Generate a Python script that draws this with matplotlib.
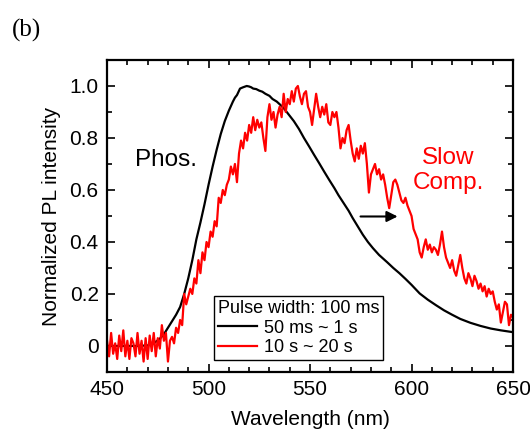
import numpy as np
import matplotlib
matplotlib.use('Agg')
import matplotlib.pyplot as plt
from matplotlib.ticker import MultipleLocator, FuncFormatter

plt.rcParams['font.family'] = ['Liberation Sans', 'DejaVu Sans']

# black: 50 ms ~ 1 s (phosphorescence)
wl_black = [450, 455, 460, 465, 470, 473, 476, 478, 480, 482, 484, 486, 488, 490,
            492, 494, 496, 498, 500, 502, 504, 506, 508, 510, 512, 513, 514, 515.5,
            517, 518.8, 520, 521, 522, 523.5, 525, 526.5, 528, 530, 531.5, 533.6,
            535, 537, 539, 542, 544.5, 547, 549.5, 552, 554.5, 557, 559.5, 562,
            564, 566.5, 569, 571, 573.5, 576, 578.5, 581, 584, 588, 591, 594, 597,
            600, 604, 608, 612, 616, 620, 624, 629, 634, 639, 644, 650]
pl_black = [0.0, 0.0, 0.0, 0.0, 0.002, 0.01, 0.028, 0.045, 0.07, 0.095, 0.12, 0.15,
            0.2, 0.26, 0.33, 0.41, 0.475, 0.545, 0.62, 0.69, 0.755, 0.815, 0.865,
            0.905, 0.94, 0.955, 0.965, 0.99, 0.995, 1.0, 0.998, 0.995, 0.99, 0.988,
            0.982, 0.978, 0.97, 0.962, 0.95, 0.94, 0.93, 0.915, 0.895, 0.865, 0.835,
            0.80, 0.768, 0.735, 0.703, 0.67, 0.638, 0.607, 0.58, 0.55, 0.52, 0.492,
            0.46, 0.428, 0.40, 0.376, 0.35, 0.322, 0.3, 0.28, 0.258, 0.235, 0.202,
            0.178, 0.157, 0.137, 0.12, 0.104, 0.089, 0.077, 0.067, 0.06, 0.053]

# red: 10 s ~ 20 s (slow component), 1 nm steps
wl_red = list(range(450, 651))
pl_red = [0.02, -0.04, 0.05, -0.03, 0.01, -0.05, 0.04, -0.02, 0.06, -0.04,
          0.02, -0.05, 0.03, 0.01, -0.04, 0.05, -0.03, 0.02, -0.06, 0.03,
          -0.05, 0.04, -0.02, 0.05, -0.04, 0.03, -0.01, 0.08, 0.02, 0.05,
          -0.06, 0.02, 0.035, 0.01, 0.07, 0.05, 0.10, 0.08, 0.20, 0.16,
          0.19, 0.22, 0.20, 0.26, 0.24, 0.33, 0.28, 0.36, 0.33, 0.40,
          0.38, 0.44, 0.42, 0.48, 0.46, 0.57, 0.55, 0.60, 0.58, 0.62,
          0.64, 0.69, 0.66, 0.70, 0.63, 0.74, 0.79, 0.76, 0.82, 0.79,
          0.85, 0.82, 0.88, 0.83, 0.87, 0.84, 0.86, 0.80, 0.75, 0.88,
          0.93, 0.87, 0.90, 0.84, 0.89, 0.92, 0.88, 0.97, 0.90, 0.95,
          0.93, 0.98, 0.94, 0.99, 1.00, 0.96, 0.93, 0.97, 0.98, 0.92,
          0.90, 0.85, 0.91, 0.97, 0.92, 0.88, 0.92, 0.89, 0.93, 0.86,
          0.85, 0.90, 0.88, 0.90, 0.84, 0.76, 0.80, 0.78, 0.83, 0.85,
          0.79, 0.74, 0.71, 0.76, 0.72, 0.77, 0.74, 0.78, 0.70, 0.59,
          0.66, 0.68, 0.70, 0.66, 0.68, 0.64, 0.66, 0.62, 0.57, 0.53,
          0.58, 0.63, 0.64, 0.62, 0.59, 0.56, 0.55, 0.57, 0.54, 0.52,
          0.50, 0.45, 0.43, 0.41, 0.36, 0.34, 0.38, 0.41, 0.37, 0.39,
          0.36, 0.38, 0.37, 0.35, 0.39, 0.44, 0.38, 0.34, 0.32, 0.30,
          0.33, 0.29, 0.27, 0.31, 0.35, 0.30, 0.26, 0.24, 0.28, 0.26,
          0.23, 0.27, 0.25, 0.22, 0.24, 0.21, 0.23, 0.19, 0.22, 0.20,
          0.21, 0.17, 0.14, 0.16, 0.09, 0.13, 0.17, 0.16, 0.08, 0.12,
          0.11]

fig = plt.figure(figsize=(5.3, 4.3), dpi=100)
ax = fig.add_axes([0.202, 0.135, 0.766, 0.7255])

ax.plot(wl_black, pl_black, color='black', lw=1.6, label='50 ms ~ 1 s')
ax.plot(wl_red, pl_red, color='red', lw=1.6, label='10 s ~ 20 s')

ax.set_xlim(450, 650)
ax.set_ylim(-0.1, 1.1)
ax.xaxis.set_major_locator(MultipleLocator(50))
ax.xaxis.set_minor_locator(MultipleLocator(10))
ax.yaxis.set_major_locator(MultipleLocator(0.2))
ax.yaxis.set_minor_locator(MultipleLocator(0.1))
ax.yaxis.set_major_formatter(FuncFormatter(lambda v, p: '0' if abs(v) < 1e-9 else '%.1f' % v))
ax.tick_params(which='both', direction='in', top=True, right=True, labelsize=15, width=1.2)
ax.tick_params(which='major', length=6, pad=6)
ax.tick_params(which='minor', length=3.5)
for s in ax.spines.values():
    s.set_linewidth(1.6)

ax.set_xlabel('Wavelength (nm)', fontsize=15, labelpad=8)
ax.set_ylabel('Normalized PL intensity', fontsize=15, labelpad=6)

ax.text(479, 0.717, 'Phos.', fontsize=17.5, ha='center', va='center')
ax.text(618, 0.675, 'Slow\nComp.', fontsize=17.5, color='red', ha='center', va='center')
ax.annotate('', xy=(594.5, 0.498), xytext=(573.5, 0.498),
            arrowprops=dict(arrowstyle='-|>', color='black', lw=1.5, mutation_scale=16))

leg = ax.legend(title='Pulse width: 100 ms', loc='lower left', bbox_to_anchor=(0.2635, 0.038),
                borderaxespad=0, fontsize=13, title_fontsize=13, fancybox=False,
                edgecolor='black', framealpha=1, borderpad=0.2, labelspacing=0.15,
                handlelength=2.2, handletextpad=0.35, alignment='left')
leg.get_frame().set_linewidth(1.0)

fig.text(0.022, 0.93, '(b)', fontsize=18, family='Liberation Serif', va='center', ha='left')

fig.savefig('out.png', dpi=100)
